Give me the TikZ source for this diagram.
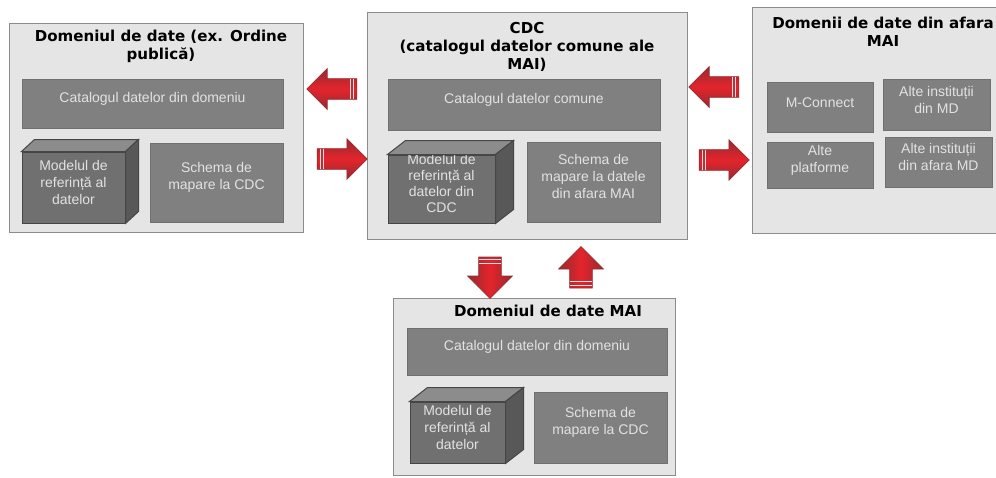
\documentclass[tikz,border=0pt]{standalone}
\usepackage{fontspec}
\setmainfont{Liberation Sans}
\newfontfamily\titlefont{DejaVu Sans}
\usetikzlibrary{fit,calc,shapes.arrows}

\definecolor{boxgray}{RGB}{229,229,229}
\definecolor{boxline}{RGB}{140,140,140}
\definecolor{innergray}{RGB}{128,128,128}
\definecolor{innerline}{RGB}{112,112,112}
\definecolor{innertext}{RGB}{226,226,226}
\definecolor{cubefrontgray}{RGB}{112,112,112}
\definecolor{cubetopgray}{RGB}{140,140,140}
\definecolor{cubesidegray}{RGB}{88,88,88}
\definecolor{cubeline}{RGB}{70,70,70}
\definecolor{arrowred}{RGB}{228,36,44}
\definecolor{arrowdark}{RGB}{150,42,48}

\tikzset{every picture/.style={line width=0.75pt}}
\tikzset{
  outerbox/.style={draw=boxline, fill=boxgray, inner sep=0pt},
  boxtitle/.style={inner sep=0pt, align=center, font=\titlefont\bfseries\fontsize{11.3}{13.5}\selectfont},
  innerbox/.style={draw=innerline, fill=innergray, inner sep=0pt, text=innertext, align=center, font=\fontsize{10.5}{12.75}\selectfont},
  cubefront/.style={innerbox, fill=cubefrontgray, draw=cubeline},
  cubetop/.style={draw=cubeline, fill=cubetopgray},
  cubeside/.style={draw=cubeline, fill=cubesidegray},
  flowarrow/.style={single arrow, shape border rotate=#1, draw=arrowdark, line width=0.5pt, inner sep=7.5pt,
    single arrow head extend=7.5pt, minimum height=37.5pt},
  hshade/.style={top color=arrowdark, bottom color=arrowdark, middle color=arrowred},
  vshade/.style={left color=arrowdark, right color=arrowdark, middle color=arrowred},
  stripe/.style={draw=boxgray, line width=0.8pt},
  tailE/.style={path picture={\foreach \s in {2.2,5}{\draw [stripe] ([xshift=-\s pt]path picture bounding box.north east) -- ([xshift=-\s pt]path picture bounding box.south east);}}},
  tailW/.style={path picture={\foreach \s in {2.2,5}{\draw [stripe] ([xshift=\s pt]path picture bounding box.north west) -- ([xshift=\s pt]path picture bounding box.south west);}}},
  tailN/.style={path picture={\foreach \s in {2.2,5}{\draw [stripe] ([yshift=-\s pt]path picture bounding box.north west) -- ([yshift=-\s pt]path picture bounding box.north east);}}},
  tailS/.style={path picture={\foreach \s in {2.2,5}{\draw [stripe] ([yshift=\s pt]path picture bounding box.south west) -- ([yshift=\s pt]path picture bounding box.south east);}}},
}

\begin{document}
\begin{tikzpicture}[x=0.75pt,y=0.75pt,yscale=-1,xscale=1]
\clip (0,0) rectangle (996,478);

% Domain box (left)
\node [outerbox, fit={(9,24) (303,232)}] (domeniu) {};
% Text Node
\draw (161,29.5) node [anchor=north][boxtitle] (domTitle) {Domeniul de date (ex. Ordine\\publică)};
\node [innerbox, fit={(22,80) (283,128)}] (domCatalog) {Catalogul datelor din domeniu};
\node [cubefront, fit={(22,152) (125,223)}] (domModel) {Modelul de\\referință al\\datelor};
\draw [cubetop] (domModel.north west) -- ++(13,-12) -- ($(domModel.north east)+(13,-12)$) -- (domModel.north east) -- cycle;
\draw [cubeside] (domModel.north east) -- ++(13,-12) -- ($(domModel.south east)+(13,-12)$) -- (domModel.south east) -- cycle;
\node [innerbox, fit={(150,143) (283,222)}] (domSchema) {Schema de\\mapare la CDC};

% CDC box (middle)
\node [outerbox, fit={(367,13) (687,239)}] (cdc) {};
% Text Node
\draw (527,22) node [anchor=north][boxtitle] (cdcTitle) {CDC\\(catalogul datelor comune ale\\MAI)};
\node [innerbox, fit={(388,80) (660,130)}] (cdcCatalog) {Catalogul datelor comune};
\node [cubefront, fit={(388,155) (495,223)}, font=\fontsize{10.5}{12}\selectfont] (cdcModel) {Modelul de\\referință al\\datelor din\\CDC};
\draw [cubetop] (cdcModel.north west) -- ++(18,-14) -- ($(cdcModel.north east)+(18,-14)$) -- (cdcModel.north east) -- cycle;
\draw [cubeside] (cdcModel.north east) -- ++(18,-14) -- ($(cdcModel.south east)+(18,-14)$) -- (cdcModel.south east) -- cycle;
\node [innerbox, fit={(527,142) (660,222)}] (cdcSchema) {Schema de\\mapare la datele\\din afara MAI};

% Outside domains (right)
\node [outerbox, fit={(752,8) (1014,233)}] (externe) {};
% Text Node
\draw (883,16.5) node [anchor=north][boxtitle] (extTitle) {Domenii de date din afara\\MAI};
\node [innerbox, fit={(767,83) (873,132)}] (extConnect) {M-Connect};
\node [innerbox, fit={(883,80) (990,130)}] (extInstMD) {Alte instituții\\din MD};
\node [innerbox, fit={(767,142) (873,188)}] (extPlatf) {Alte\\platforme};
\node [innerbox, fit={(885,137) (992,187)}] (extInstOut) {Alte instituții\\din afara MD};

% MAI domain (bottom)
\node [outerbox, fit={(393,298) (675,475)}] (mai) {};
% Text Node
\draw (548,304.5) node [anchor=north][boxtitle] (maiTitle) {Domeniul de date MAI};
\node [innerbox, fit={(407,328) (667,375)}] (maiCatalog) {Catalogul datelor din domeniu};
\node [cubefront, fit={(410,402) (505,463)}] (maiModel) {Modelul de\\referință al\\datelor};
\draw [cubetop] (maiModel.north west) -- ++(18,-14) -- ($(maiModel.north east)+(18,-14)$) -- (maiModel.north east) -- cycle;
\draw [cubeside] (maiModel.north east) -- ++(18,-14) -- ($(maiModel.south east)+(18,-14)$) -- (maiModel.south east) -- cycle;
\node [innerbox, fit={(534,392) (667,463)}] (maiSchema) {Schema de\\mapare la CDC};

% Flow arrows
\node [flowarrow=180, hshade, tailE] (domIn) at (337,89) {};
\node [flowarrow=0, hshade, tailW] (domOut) at (337,159) {};
\node [flowarrow=180, hshade, tailE] (extIn) at (719,87) {};
\node [flowarrow=0, hshade, tailW] (extOut) at (719,160) {};
\node [flowarrow=270, vshade, tailN, inner sep=8.25pt, single arrow head extend=8.25pt, minimum height=31pt] (maiIn) at (490,272) {};
\node [flowarrow=90, vshade, tailS, inner sep=8.25pt, single arrow head extend=8.25pt, minimum height=31pt] (maiOut) at (581,273) {};

\end{tikzpicture}
\end{document}
